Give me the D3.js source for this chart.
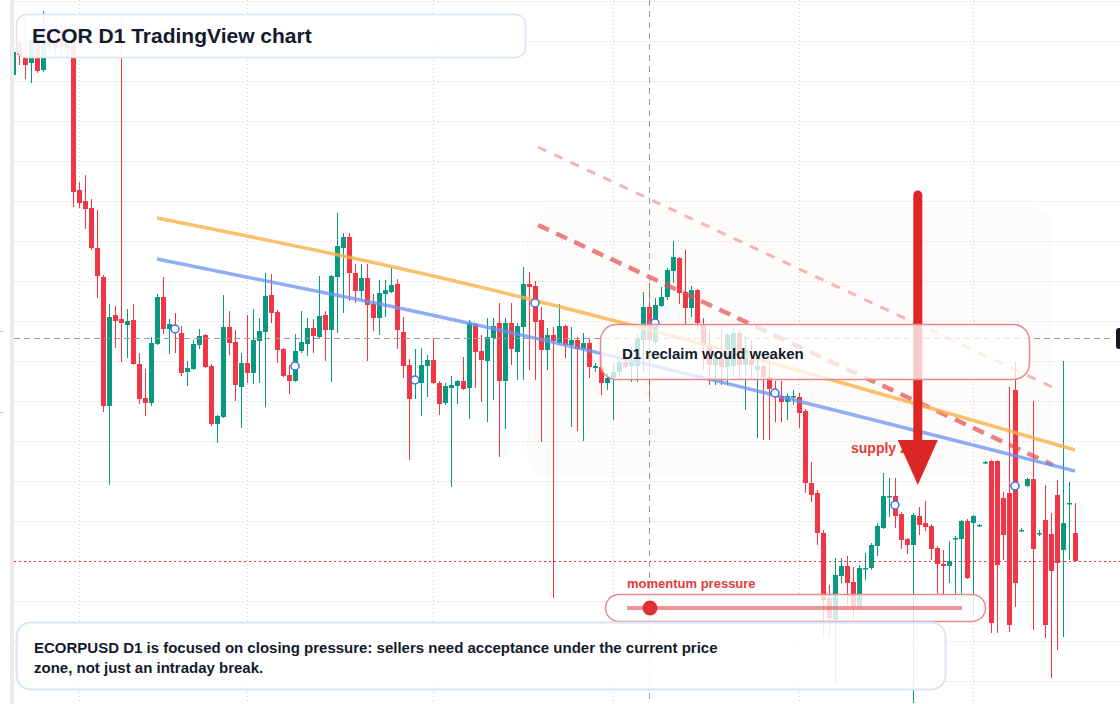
<!DOCTYPE html>
<html lang="en">
<head>
<meta charset="UTF-8">
<title>ECOR D1 TradingView chart</title>
<script src="https://d3js.org/d3.v7.min.js"></script>
<style>
  html, body { margin: 0; padding: 0; background: #fff; overflow: hidden; }
  svg { display: block; font-family: "Liberation Sans", Arial, sans-serif; }
  .grid line { stroke: #d2d2d2; stroke-width: 1; stroke-dasharray: 1,3; }
  .note { fill: #131a2b; font-weight: bold; }
  .red-label { fill: #e03c3c; font-weight: bold; }
</style>
</head>
<body>
<script>
// daily candles, oldest first
const open = [
  60.6, 63.9, 62.3, 61.8, 63.9, 61.1, 63.4, 64.1, 64.1, 63.3,
  63.9, 49.1, 48.0, 47.3, 43.3, 40.4, 27.5, 36.6, 36.2, 35.6,
  36.1, 31.7, 28.3, 27.8, 33.7, 38.4, 35.2, 35.5, 34.8, 30.9,
  31.2, 33.6, 34.6, 31.5, 25.7, 26.4, 35.4, 33.9, 29.4, 31.8,
  30.8, 34.0, 34.9, 38.6, 36.9, 33.2, 30.6, 30.0, 33.0, 33.7,
  35.3, 34.4, 36.6, 35.1, 40.4, 43.3, 44.4, 40.8, 39.0, 40.3,
  37.7, 36.3, 38.7, 38.9, 39.7, 34.9, 31.6, 29.7, 29.8, 31.5,
  32.1, 29.8, 27.8, 29.3, 29.5, 30.0, 29.3, 35.7, 33.0, 32.0,
  34.3, 35.8, 30.0, 35.8, 32.9, 35.4, 39.7, 39.5, 36.1, 33.1,
  34.6, 33.8, 35.5, 33.6, 34.1, 33.2, 33.8, 31.3, 31.4, 29.8,
  30.3, 30.9, 31.9, 31.5, 31.5, 34.1, 37.4, 33.9, 37.5, 38.4,
  41.0, 42.3, 38.9, 37.3, 39.1, 35.7, 33.6, 31.6, 32.3, 31.4,
  31.5, 34.8, 31.6, 32.1, 31.1, 31.5, 30.4, 29.1, 28.5, 27.9,
  28.4, 28.4, 27.0, 19.8, 18.8, 14.8, 8.3, 6.1, 10.5, 11.5,
  9.9, 7.4, 11.2, 11.3, 13.5, 15.3, 18.4, 18.5, 16.7, 14.2,
  13.6, 16.5, 15.8, 15.5, 13.3, 11.7, 11.5, 14.2, 14.2, 16.0,
  15.8, 15.5, 21.8, 22.0, 22.0, 18.3, 18.8, 29.1, 15.0, 19.5,
  20.2, 14.7, 16.1, 14.7, 18.6, 13.1, 17.7, 14.8
];
const high = [
  63.1, 64.1, 66.4, 64.3, 64.3, 67.0, 64.6, 65.1, 65.6, 64.6,
  64.3, 49.9, 50.6, 48.2, 47.1, 40.6, 37.7, 37.5, 66.3, 37.2,
  37.7, 32.8, 31.2, 34.4, 38.7, 40.4, 36.2, 36.8, 35.5, 32.0,
  34.1, 35.2, 34.7, 31.7, 26.6, 38.6, 37.0, 35.1, 32.8, 36.6,
  37.2, 36.3, 40.8, 40.7, 37.1, 33.3, 31.6, 34.7, 37.0, 36.3,
  36.2, 40.5, 37.0, 40.6, 46.8, 44.8, 44.8, 41.7, 41.7, 41.7,
  38.7, 40.1, 40.1, 41.3, 40.2, 36.4, 32.2, 33.2, 33.3, 32.6,
  34.3, 30.0, 29.8, 30.5, 30.1, 32.4, 36.1, 35.8, 34.6, 36.3,
  36.3, 37.8, 36.3, 37.8, 35.8, 41.4, 40.9, 40.0, 37.4, 35.3,
  35.4, 37.7, 35.6, 35.4, 34.4, 34.8, 34.3, 31.8, 32.6, 30.8,
  31.8, 32.4, 33.1, 33.4, 34.8, 38.9, 39.8, 38.3, 39.4, 41.3,
  44.0, 42.4, 43.1, 39.5, 39.2, 36.3, 35.1, 32.7, 35.1, 34.8,
  35.3, 35.1, 34.6, 34.1, 32.6, 32.1, 32.1, 30.0, 30.0, 28.8,
  29.1, 28.8, 27.2, 21.9, 19.1, 15.1, 9.6, 12.3, 12.3, 12.5,
  11.4, 11.6, 12.8, 13.8, 15.8, 20.8, 20.3, 20.3, 16.9, 14.3,
  16.8, 17.4, 18.0, 15.7, 13.5, 13.1, 14.0, 14.5, 16.1, 16.2,
  16.6, 15.7, 22.0, 22.1, 22.1, 18.9, 29.4, 31.9, 15.3, 20.3,
  28.0, 15.1, 19.6, 16.8, 20.1, 32.0, 19.9, 17.8
];
const low = [
  60.3, 61.6, 60.2, 59.8, 60.8, 60.9, 62.9, 62.6, 62.4, 62.4,
  47.4, 47.3, 45.2, 43.1, 38.3, 26.9, 19.6, 33.3, 31.9, 32.3,
  31.6, 27.7, 26.5, 27.5, 33.6, 34.7, 32.7, 32.8, 30.5, 29.5,
  31.1, 33.2, 31.3, 25.5, 23.8, 26.3, 32.6, 28.0, 25.3, 29.8,
  29.7, 29.8, 27.4, 35.8, 31.8, 30.4, 28.7, 29.9, 32.8, 32.5,
  32.8, 34.3, 32.0, 29.9, 34.8, 36.8, 38.0, 37.8, 38.2, 32.0,
  35.0, 34.6, 36.4, 38.8, 33.2, 30.3, 22.1, 28.2, 26.5, 28.4,
  29.7, 26.6, 27.6, 19.4, 27.7, 29.1, 26.2, 29.3, 27.9, 25.9,
  28.1, 22.4, 25.2, 31.6, 30.1, 30.1, 31.1, 30.1, 23.9, 31.1,
  8.3, 33.7, 32.3, 25.4, 25.0, 24.0, 30.3, 30.9, 28.6, 29.1,
  26.1, 30.4, 31.3, 29.9, 29.9, 30.9, 28.3, 33.6, 37.4, 38.1,
  39.8, 37.7, 35.6, 36.4, 35.1, 31.1, 29.6, 29.6, 29.6, 29.6,
  30.6, 30.1, 27.1, 30.1, 24.3, 24.1, 24.1, 25.9, 25.9, 26.1,
  27.6, 25.3, 18.8, 17.9, 13.6, 4.3, 4.4, -0.2, 9.8, 7.6,
  6.3, 7.3, 10.1, 11.1, 12.5, 15.2, 16.4, 15.3, 13.2, 12.7,
  -2.2, 14.6, 15.0, 12.1, 8.6, 8.6, 9.8, 8.1, 8.4, 10.2,
  6.4, 15.4, 21.7, 4.8, 4.8, 12.1, 4.9, 7.4, 14.9, 19.4,
  5.1, 14.5, 4.3, 0.3, 3.1, 4.4, 12.1, 11.9
];
const close = [
  62.9, 62.6, 61.6, 64.1, 61.0, 63.8, 64.1, 63.3, 63.4, 64.0,
  48.9, 47.8, 47.2, 43.3, 40.5, 27.5, 36.4, 36.0, 35.8, 36.0,
  31.7, 28.2, 27.8, 33.8, 38.4, 35.2, 35.7, 34.9, 30.8, 31.3,
  33.7, 34.5, 31.4, 25.7, 26.5, 35.4, 33.8, 29.6, 31.8, 30.8,
  34.1, 35.0, 38.5, 36.8, 33.1, 30.5, 30.0, 33.0, 33.9, 35.3,
  34.5, 36.5, 35.1, 40.5, 43.5, 44.4, 40.8, 39.0, 40.3, 37.6,
  36.3, 38.8, 39.1, 39.6, 35.1, 31.5, 28.2, 30.4, 31.6, 32.1,
  29.8, 27.7, 29.5, 29.6, 30.0, 29.2, 35.8, 32.9, 32.1, 34.4,
  35.5, 30.0, 35.8, 33.2, 35.5, 39.7, 39.4, 35.9, 33.1, 34.6,
  34.0, 35.5, 33.6, 34.1, 33.2, 33.8, 31.4, 31.5, 29.8, 30.3,
  30.9, 31.9, 31.4, 31.9, 34.3, 37.4, 34.1, 37.6, 38.4, 41.1,
  42.4, 38.8, 37.3, 39.1, 35.8, 33.5, 31.6, 32.3, 31.4, 34.6,
  34.8, 31.6, 33.1, 31.6, 31.5, 30.4, 29.2, 28.5, 27.9, 28.5,
  28.5, 26.8, 19.8, 18.6, 14.8, 8.1, 6.3, 10.6, 11.5, 9.8,
  7.4, 11.3, 11.3, 13.6, 15.5, 18.5, 18.5, 16.5, 14.1, 13.6,
  16.6, 15.6, 15.4, 13.2, 11.7, 11.5, 12.0, 14.3, 16.0, 10.3,
  16.5, 15.6, 21.9, 5.8, 11.6, 14.6, 5.6, 9.8, 15.1, 20.2,
  13.2, 14.8, 5.6, 11.0, 11.8, 15.8, 17.8, 12.0
];

// chart furniture
const priceTicks = d3.range(0, 69, 4);
const timeGridIdx = [11, 39, 70, 100, 131, 160];
const markerIdx = [27, 47, 67, 87, 107, 127, 147, 167];
const markerVal = [35.2, 31.5, 30.1, 37.8, 35.8, 28.8, 17.6, 19.5];
const orangeLine = [[24, 46.3], [61.2, 41.7], [177, 23.1]];
const blueLine = [[24, 42.2], [61.2, 37.7], [177, 21.0]];
const redDash = [[87.5, 45.6], [173.3, 21.6]];
const redDashLight = [[87.5, 53.4], [173.2, 29.4]];
const supplyZone = [85.7, 173.2, 47.4, 20.3];   // from, to, top, bottom
const arrowIdx = 150.8, arrowFrom = 48.6, arrowHead = 24.1, arrowTip = 19.6;
const crossIdx = 106, crossPrice = 34.3;

const W = 1120, H = 704;
const up = "#089981", down = "#f23645";

const svg = d3.select("body").append("svg")
    .attr("width", W)
    .attr("height", H);

const x = d3.scaleLinear().domain([0, 177]).range([13, 1075]);
const y = d3.scaleLinear().domain([0, 68]).range([681, 1]);

svg.append("defs").append("clipPath").attr("id", "plot")
  .append("rect").attr("x", 14).attr("y", 0).attr("width", W - 14).attr("height", H);

// left scale strip
svg.append("rect").attr("x", 10).attr("y", 0).attr("width", 4).attr("height", H).attr("fill", "#ebebeb");
svg.selectAll(".ltick").data([26.9, 35.0]).join("line")
    .attr("x1", 0).attr("x2", 4)
    .attr("y1", d => y(d) + 0.5).attr("y2", d => y(d) + 0.5)
    .attr("stroke", "#c8c8c8");

const plot = svg.append("g").attr("clip-path", "url(#plot)");

// grid
const grid = plot.append("g").attr("class", "grid");
grid.selectAll(".h").data(priceTicks).join("line")
    .attr("x1", 14).attr("x2", W)
    .attr("y1", d => y(d) + 0.5).attr("y2", d => y(d) + 0.5);
grid.selectAll(".v").data(timeGridIdx).join("line")
    .attr("x1", d => x(d) + 0.5).attr("x2", d => x(d) + 0.5)
    .attr("y1", 0).attr("y2", H);

// shaded supply zone
plot.append("rect")
    .attr("x", x(supplyZone[0]))
    .attr("y", y(supplyZone[2]))
    .attr("width", x(supplyZone[1]) - x(supplyZone[0]))
    .attr("height", y(supplyZone[3]) - y(supplyZone[2]))
    .attr("rx", 22)
    .attr("fill", "rgb(230,190,160)")
    .attr("fill-opacity", 0.04);

// last price line
const last = close[close.length - 1];
plot.append("line")
    .attr("x1", 14).attr("x2", W)
    .attr("y1", y(last) + 0.5).attr("y2", y(last) + 0.5)
    .attr("stroke", "#f0303a").attr("stroke-width", 1).attr("stroke-dasharray", "2,3");

// candles
const data = d3.range(close.length).map(i => ({i, o: open[i], h: high[i], l: low[i], c: close[i]}));
const candle = plot.append("g").selectAll("g").data(data).join("g")
    .attr("fill", d => d.c >= d.o ? up : down)
    .attr("stroke", d => d.c >= d.o ? up : down);

candle.append("line")
    .attr("x1", d => x(d.i) + 0.5).attr("x2", d => x(d.i) + 0.5)
    .attr("y1", d => y(d.h)).attr("y2", d => y(d.l))
    .attr("stroke-width", 1);

candle.append("rect")
    .attr("x", d => x(d.i) - 2)
    .attr("y", d => y(Math.max(d.o, d.c)))
    .attr("width", 5)
    .attr("height", d => Math.max(1.5, Math.abs(y(d.o) - y(d.c))))
    .attr("stroke", "none");

// trend lines
const line = d3.line().x(d => x(d[0])).y(d => y(d[1]));
const curve = d3.line().curve(d3.curveMonotoneX).x(d => x(d[0])).y(d => y(d[1]));

plot.append("path").datum(redDashLight).attr("d", line)
    .attr("fill", "none").attr("stroke", "#f08c8c").attr("stroke-opacity", 0.65)
    .attr("stroke-width", 3).attr("stroke-dasharray", "9,9");
plot.append("path").datum(redDash).attr("d", line)
    .attr("fill", "none").attr("stroke", "#e34b4f").attr("stroke-opacity", 0.7)
    .attr("stroke-width", 4.5).attr("stroke-dasharray", "12,8");
plot.append("path").datum(orangeLine).attr("d", curve)
    .attr("fill", "none").attr("stroke", "#f7b24a").attr("stroke-opacity", 0.8)
    .attr("stroke-width", 3.5);
plot.append("path").datum(blueLine).attr("d", curve)
    .attr("fill", "none").attr("stroke", "#6b93f0").attr("stroke-opacity", 0.75)
    .attr("stroke-width", 3.5);

// signal markers
plot.selectAll(".mk").data(markerIdx).join("circle")
    .attr("cx", d => x(d))
    .attr("cy", (d, k) => y(markerVal[k]))
    .attr("r", 4)
    .attr("fill", "#fff")
    .attr("stroke", "#3b6ee8")
    .attr("stroke-width", 1.5);

// crosshair
plot.append("line")
    .attr("x1", 14).attr("x2", 1114)
    .attr("y1", y(crossPrice) + 0.5).attr("y2", y(crossPrice) + 0.5)
    .attr("stroke", "#9a9a9a").attr("stroke-dasharray", "6,4");
plot.append("line")
    .attr("x1", x(crossIdx) + 0.5).attr("x2", x(crossIdx) + 0.5)
    .attr("y1", 0).attr("y2", H)
    .attr("stroke", "#9a9a9a").attr("stroke-dasharray", "6,5");

// supply zone label + arrow
svg.append("text").attr("class", "red-label")
    .attr("x", 851).attr("y", 453)
    .style("font-size", "14px")
    .text("supply zone");

const ax = x(arrowIdx);
svg.append("line")
    .attr("x1", ax).attr("x2", ax)
    .attr("y1", y(arrowFrom)).attr("y2", y(arrowHead) + 4)
    .attr("stroke", "#dc2626").attr("stroke-width", 9).attr("stroke-linecap", "round");
svg.append("path")
    .attr("d", `M${ax - 20},${y(arrowHead)} L${ax + 20},${y(arrowHead)} L${ax},${y(arrowTip)} Z`)
    .attr("fill", "#dc2626");

// annotation boxes
svg.append("rect")
    .attr("x", 16.5).attr("y", 14.5).attr("width", 509).attr("height", 43).attr("rx", 10)
    .attr("fill", "#fff").attr("fill-opacity", 0.9)
    .attr("stroke", "#d8e4f7").attr("stroke-width", 1.5);
svg.append("text").attr("class", "note")
    .attr("x", 32).attr("y", 43)
    .style("font-size", "21px")
    .text("ECOR D1 TradingView chart");

svg.append("rect")
    .attr("x", 600.5).attr("y", 324.5).attr("width", 429).attr("height", 55).attr("rx", 16)
    .attr("fill", "#fff").attr("fill-opacity", 0.76)
    .attr("stroke", "#e8898b").attr("stroke-width", 1.5);
svg.append("text").attr("class", "note")
    .attr("x", 622).attr("y", 359)
    .style("font-size", "15px")
    .text("D1 reclaim would weaken");

svg.append("text").attr("class", "red-label")
    .attr("x", 627).attr("y", 588)
    .style("font-size", "13px")
    .text("momentum pressure");
svg.append("rect")
    .attr("x", 605.5).attr("y", 594.5).attr("width", 380).attr("height", 27).attr("rx", 13.5)
    .attr("fill", "#fff").attr("fill-opacity", 0.8)
    .attr("stroke", "#ee8a8a").attr("stroke-width", 1.5);
svg.append("line")
    .attr("x1", 627).attr("x2", 962).attr("y1", 608).attr("y2", 608)
    .attr("stroke", "#e45c5c").attr("stroke-opacity", 0.65).attr("stroke-width", 4);
svg.append("circle")
    .attr("cx", 650).attr("cy", 608).attr("r", 7.5)
    .attr("fill", "#e03232");

svg.append("rect")
    .attr("x", 16.5).attr("y", 622.5).attr("width", 929).attr("height", 67).attr("rx", 14)
    .attr("fill", "#fff").attr("fill-opacity", 0.88)
    .attr("stroke", "#d8e4f7").attr("stroke-width", 2);
const foot = svg.append("text").attr("class", "note").style("font-size", "15px");
foot.append("tspan").attr("x", 34).attr("y", 653)
    .text("ECORPUSD D1 is focused on closing pressure: sellers need acceptance under the current price");
foot.append("tspan").attr("x", 34).attr("y", 673)
    .text("zone, not just an intraday break.");

// crosshair price tag at right edge
svg.append("rect")
    .attr("x", 1116).attr("y", y(crossPrice) - 10).attr("width", 30).attr("height", 21).attr("rx", 3)
    .attr("fill", "#131722");
</script>
</body>
</html>
